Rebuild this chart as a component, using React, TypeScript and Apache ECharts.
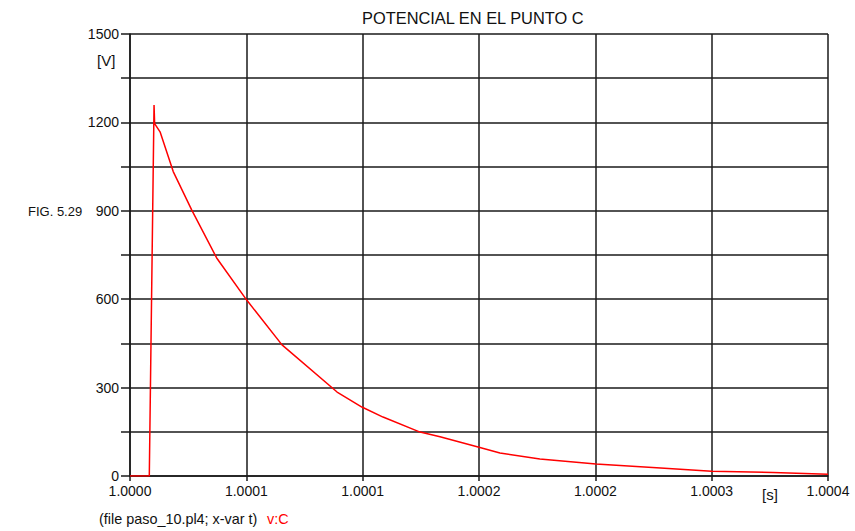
import React, { useEffect, useRef } from "react";
import * as echarts from "echarts";

// time offset from t = 1.0000 s, in microseconds
const timeUs = [0, 9.95, 12.4, 12.7, 15.5, 22.3, 31.8, 44.7, 60.2, 78.4, 106.8, 119.6, 130.5, 149.6, 159.9, 180, 190.8, 211.4, 240.3, 271.6, 300, 331.6, 360];
// v:C in volts
const voltage = [0, 0, 1259, 1196, 1168, 1033, 903, 740, 597, 445, 285, 234, 200, 149, 133, 97.5, 78, 58, 41, 28, 16, 12, 6];

const xTickLabels = ["1.0000", "1.0001", "1.0001", "1.0002", "1.0002", "1.0003", "1.0004"];
const yTickLabels = ["0", "", "300", "", "600", "", "900", "", "1200", "", "1500"];

const FONT = "Liberation Sans, Arial, sans-serif";

export default function App() {
  const ref = useRef<HTMLDivElement>(null);
  useEffect(() => {
    if (!ref.current) return;
    const chart = echarts.init(ref.current, undefined, { renderer: "svg" });
    const gridColor = "#1a1a1a";
    chart.setOption({
      animation: false,
      backgroundColor: "#ffffff",
      graphic: [
        { type: "text", left: 362, top: 10, style: { text: "POTENCIAL EN EL PUNTO C", fontFamily: FONT, fontSize: 16.4, fill: "#111" } },
        { type: "text", left: 97, top: 53, style: { text: "[V]", fontFamily: FONT, fontSize: 15, fill: "#111" } },
        { type: "text", left: 762, top: 487, style: { text: "[s]", fontFamily: FONT, fontSize: 15, fill: "#111" } },
        { type: "text", left: 28, top: 205, style: { text: "FIG. 5.29", fontFamily: FONT, fontSize: 13, fill: "#111" } },
        { type: "text", left: 99, top: 512, style: { text: "(file paso_10.pl4; x-var t)", fontFamily: FONT, fontSize: 14.4, fill: "#111" } },
        { type: "text", left: 267, top: 512, style: { text: "v:C", fontFamily: FONT, fontSize: 14.4, fill: "#ff0000" } },
      ],
      grid: { left: 130, right: 27, top: 34, bottom: 55, containLabel: false },
      xAxis: {
        type: "value",
        min: 0,
        max: 360,
        interval: 60,
        axisLine: { show: true, lineStyle: { color: gridColor, width: 1.5 } },
        axisTick: { show: true, length: 5, inside: false, lineStyle: { color: gridColor, width: 1.5 } },
        axisLabel: {
          fontFamily: FONT,
          fontSize: 14,
          color: "#111",
          margin: 8,
          showMaxLabel: true,
          showMinLabel: true,
          formatter: (v: number) => xTickLabels[Math.round(v / 60)] ?? "",
        },
        splitLine: { show: true, lineStyle: { color: gridColor, width: 1.5 } },
      },
      yAxis: {
        type: "value",
        min: 0,
        max: 1500,
        interval: 150,
        axisLine: { show: true, lineStyle: { color: gridColor, width: 1.5 } },
        axisTick: { show: true, length: 9, lineStyle: { color: gridColor, width: 1.5 } },
        axisLabel: {
          fontFamily: FONT,
          fontSize: 14,
          color: "#111",
          margin: 11,
          showMaxLabel: true,
          formatter: (v: number) => yTickLabels[Math.round(v / 150)] ?? "",
        },
        splitLine: { show: true, lineStyle: { color: gridColor, width: 1.5 } },
      },
      series: [
        {
          type: "line",
          name: "v:C",
          data: timeUs.map((t, i) => [t, voltage[i]]),
          showSymbol: false,
          symbol: "none",
          lineStyle: { color: "#ff0000", width: 1.5 },
          z: 5,
        },
      ],
    });
    return () => chart.dispose();
  }, []);
  return <div ref={ref} style={{ width: 855, height: 531, position: "absolute", left: 0, top: 0 }} />;
}
